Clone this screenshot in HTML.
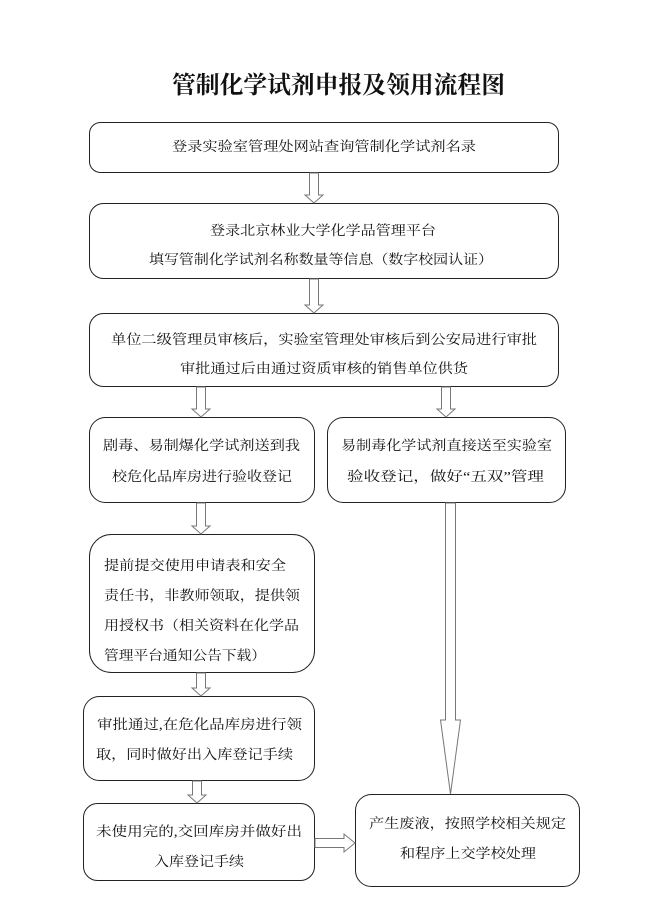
<!DOCTYPE html>
<html><head><meta charset="utf-8"><style>
html,body{margin:0;padding:0;background:#fff;}
svg{display:block;}
text{font-family:"Liberation Serif","Noto Serif CJK SC","Noto Sans CJK SC",serif;font-size:13.5px;fill:#111;}
.t{font-size:24px;font-weight:bold;}
rect{fill:#fff;stroke:#222;stroke-width:1;}
.a{fill:#fff;stroke:#777;stroke-width:1;}
</style></head><body>
<svg width="646" height="911" viewBox="0 0 646 911" xmlns="http://www.w3.org/2000/svg">
<text class="t" x="172" y="93" textLength="333" lengthAdjust="spacingAndGlyphs">管制化学试剂申报及领用流程图</text>

<rect x="89.5" y="122.5" width="469" height="50" rx="11"/>
<text x="172" y="151" textLength="304" lengthAdjust="spacingAndGlyphs">登录实验室管理处网站查询管制化学试剂名录</text>

<rect x="89.5" y="203.5" width="469" height="75" rx="14"/>
<text x="210" y="235" textLength="226" lengthAdjust="spacingAndGlyphs">登录北京林业大学化学品管理平台</text>
<text x="149" y="264" textLength="344" lengthAdjust="spacingAndGlyphs">填写管制化学试剂名称数量等信息（数字校园认证）</text>

<rect x="89.5" y="313.5" width="469" height="73" rx="14"/>
<text x="111" y="344" textLength="426" lengthAdjust="spacingAndGlyphs">单位二级管理员审核后，实验室管理处审核后到公安局进行审批</text>
<text x="180" y="373" textLength="288" lengthAdjust="spacingAndGlyphs">审批通过后由通过资质审核的销售单位供货</text>

<rect x="89.5" y="417.5" width="225" height="85" rx="16"/>
<text x="103" y="450" textLength="197" lengthAdjust="spacingAndGlyphs">剧毒、易制爆化学试剂送到我</text>
<text x="112" y="481" textLength="180" lengthAdjust="spacingAndGlyphs">校危化品库房进行验收登记</text>

<rect x="327.5" y="417.5" width="238" height="85" rx="16"/>
<text x="341" y="450" textLength="211" lengthAdjust="spacingAndGlyphs">易制毒化学试剂直接送至实验室</text>
<text x="347" y="481" textLength="197" lengthAdjust="spacingAndGlyphs">验收登记，做好“五双”管理</text>

<rect x="89.5" y="534.5" width="225" height="138" rx="22"/>
<text x="104" y="570" textLength="182" lengthAdjust="spacingAndGlyphs">提前提交使用申请表和安全</text>
<text x="104" y="600" textLength="196" lengthAdjust="spacingAndGlyphs">责任书，非教师领取，提供领</text>
<text x="104" y="630" textLength="195" lengthAdjust="spacingAndGlyphs">用授权书（相关资料在化学品</text>
<text x="104" y="660" textLength="162" lengthAdjust="spacingAndGlyphs">管理平台通知公告下载）</text>

<rect x="83.5" y="696.5" width="231" height="84" rx="16"/>
<text x="97" y="729" textLength="205" lengthAdjust="spacingAndGlyphs">审批通过,在危化品库房进行领</text>
<text x="96" y="759" textLength="197" lengthAdjust="spacingAndGlyphs">取，同时做好出入库登记手续</text>

<rect x="83.5" y="803.5" width="231" height="77" rx="14"/>
<text x="96" y="836" textLength="206" lengthAdjust="spacingAndGlyphs">未使用完的,交回库房并做好出</text>
<text x="154" y="866" textLength="90" lengthAdjust="spacingAndGlyphs">入库登记手续</text>

<rect x="355.5" y="794.5" width="224" height="92" rx="16"/>
<text x="369" y="828" textLength="197" lengthAdjust="spacingAndGlyphs">产生废液，按照学校相关规定</text>
<text x="400" y="858" textLength="136" lengthAdjust="spacingAndGlyphs">和程序上交学校处理</text>

<!-- arrows: shaft half-width 4, head half-width 9 -->
<path class="a" d="M309.5 173 V195 H305 L314 203 L323 195 H318.5 V173 Z"/>
<path class="a" d="M309.5 279 V305 H305 L314 313 L323 305 H318.5 V279 Z"/>
<path class="a" d="M196.5 387 V409 H192 L201 417 L210 409 H205.5 V387 Z"/>
<path class="a" d="M441.5 387 V409 H437 L446 417 L455 409 H450.5 V387 Z"/>
<path class="a" d="M196.5 503 V526 H192 L201 534 L210 526 H205.5 V503 Z"/>
<path class="a" d="M196.5 673 V688 H192 L201 696 L210 688 H205.5 V673 Z"/>
<path class="a" d="M192.5 781 V795 H188 L197 803 L206 795 H201.5 V781 Z"/>
<path class="a" d="M445.5 503 V720 H440.5 L450.5 794 L460.5 720 H455.5 V503 Z"/>
<path class="a" d="M315 838.5 H344 V834 L355 843 L344 852 V847.5 H315 Z"/>
</svg>
</body></html>
